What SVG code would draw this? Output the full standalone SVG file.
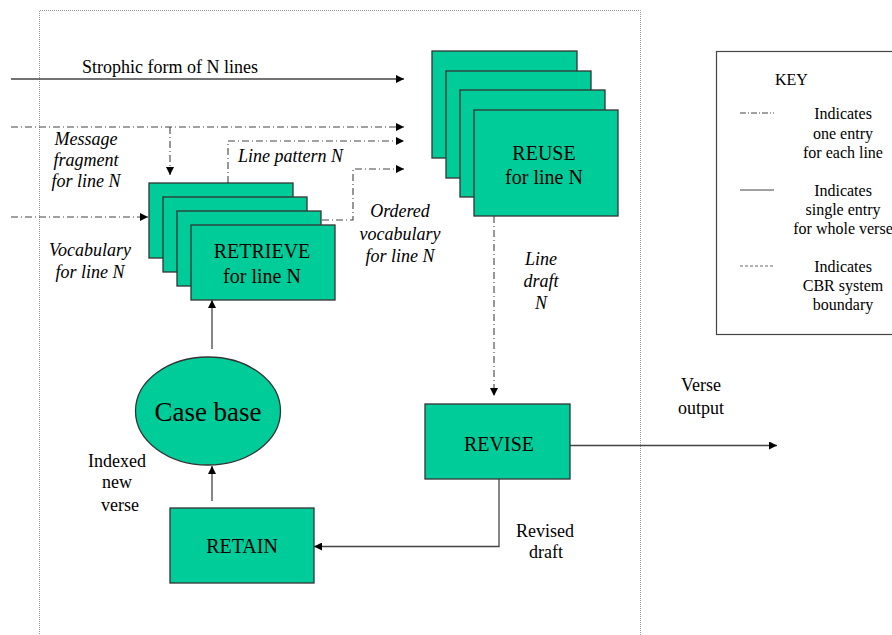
<svg xmlns="http://www.w3.org/2000/svg" width="892" height="635" viewBox="0 0 892 635">
<style>
.box{fill:#00CC99;stroke:#333;stroke-width:1.3}
.n{font-size:20px;text-anchor:middle}
.l{font-size:18px}
.i{font-size:18px;font-style:italic}
.k{font-size:16px;text-anchor:middle}
.c{text-anchor:middle}
.solid{fill:none;stroke:#444;stroke-width:1.3}
.dd{fill:none;stroke:#444;stroke-width:1.1;stroke-dasharray:7 3 1 3}
.bd{fill:none;stroke:#999;stroke-width:1;stroke-dasharray:1 1}
</style>
<defs>
<marker id="a" viewBox="0 0 10 10" refX="10" refY="5" markerWidth="8" markerHeight="8" markerUnits="userSpaceOnUse" orient="auto"><path d="M0,0L10,5L0,10z" fill="#000"/></marker>
</defs>
<rect width="892" height="635" fill="#fff"/>
<g font-family="'Liberation Serif', 'DejaVu Serif', serif" fill="#000">
<g id="boundary">
<path class="bd" d="M39.5,640V10.5H640.5V640"/>
</g>
<g id="connectors">
<path class="solid" d="M11,79H404" marker-end="url(#a)"/>
<path class="dd" d="M11,127H404" marker-end="url(#a)"/>
<path class="dd" d="M170,127V175" marker-end="url(#a)"/>
<path class="dd" d="M228,183V141H404" marker-end="url(#a)"/>
<path class="dd" d="M322,220H353V169H404" marker-end="url(#a)"/>
<path class="dd" d="M11,217H148" marker-end="url(#a)"/>
<path class="dd" d="M494,216V396" marker-end="url(#a)"/>
<path class="solid" d="M570,445.5H777" marker-end="url(#a)"/>
<path class="solid" d="M499,479V546.5H314" marker-end="url(#a)"/>
<path class="solid" d="M212,501V466" marker-end="url(#a)"/>
<path class="solid" d="M212,349V300" marker-end="url(#a)"/>
</g>
<g id="retrieve">
<rect class="box" x="149" y="183" width="144" height="75"/>
<rect class="box" x="163" y="197" width="144" height="75"/>
<rect class="box" x="177" y="211" width="144" height="75"/>
<rect class="box" x="191" y="225" width="144" height="75"/>
<text class="n" x="262" y="258">RETRIEVE</text>
<text class="n" x="262" y="283">for line N</text>
</g>
<g id="reuse">
<rect class="box" x="432" y="51" width="145" height="107"/>
<rect class="box" x="446" y="71" width="145" height="107"/>
<rect class="box" x="460" y="90" width="145" height="107"/>
<rect class="box" x="474" y="110" width="144" height="106"/>
<text class="n" x="544" y="160">REUSE</text>
<text class="n" x="544" y="184">for line N</text>
</g>
<g id="revise">
<rect class="box" x="425" y="404" width="145" height="75"/>
<text class="n" x="499" y="451">REVISE</text>
</g>
<g id="retain">
<rect class="box" x="170" y="508" width="144" height="75"/>
<text class="n" x="242" y="553">RETAIN</text>
</g>
<g id="casebase">
<ellipse class="box" cx="208" cy="411" rx="72.5" ry="54"/>
<text class="c" x="208" y="421" font-size="27">Case base</text>
</g>
<g id="labels">
<text class="l" x="82" y="73">Strophic form of N lines</text>
<text class="i c" x="86" y="145">Message</text>
<text class="i c" x="86" y="166">fragment</text>
<text class="i c" x="86" y="187">for line N</text>
<text class="i c" x="90" y="256">Vocabulary</text>
<text class="i c" x="90" y="278">for line N</text>
<text class="i" x="238" y="162">Line pattern N</text>
<text class="i c" x="400" y="217">Ordered</text>
<text class="i c" x="400" y="240">vocabulary</text>
<text class="i c" x="400" y="262">for line N</text>
<text class="i c" x="541" y="265">Line</text>
<text class="i c" x="541" y="287">draft</text>
<text class="i c" x="541" y="309">N</text>
<text class="l c" x="701" y="391">Verse</text>
<text class="l c" x="701" y="414">output</text>
<text class="l c" x="545" y="537">Revised</text>
<text class="l c" x="546" y="558">draft</text>
<text class="l c" x="117" y="467">Indexed</text>
<text class="l c" x="117" y="488">new</text>
<text class="l c" x="120" y="511">verse</text>
</g>
<g id="key">
<rect x="716.5" y="51.5" width="200" height="283" fill="none" stroke="#444" stroke-width="1.2"/>
<text x="775" y="85" font-size="16">KEY</text>
<path d="M740,113H774" fill="none" stroke="#444" stroke-width="1" stroke-dasharray="6 2 1 2"/>
<path d="M740,190H774" fill="none" stroke="#444" stroke-width="1.2"/>
<path d="M740,266H774" fill="none" stroke="#666" stroke-width="1" stroke-dasharray="3 2"/>
<text class="k" x="843" y="119">Indicates</text>
<text class="k" x="843" y="139">one entry</text>
<text class="k" x="843" y="158">for each line</text>
<text class="k" x="843" y="196">Indicates</text>
<text class="k" x="843" y="215">single entry</text>
<text class="k" x="843" y="234">for whole verse</text>
<text class="k" x="843" y="272">Indicates</text>
<text class="k" x="843" y="291">CBR system</text>
<text class="k" x="843" y="310">boundary</text>
</g>
</g>
</svg>
